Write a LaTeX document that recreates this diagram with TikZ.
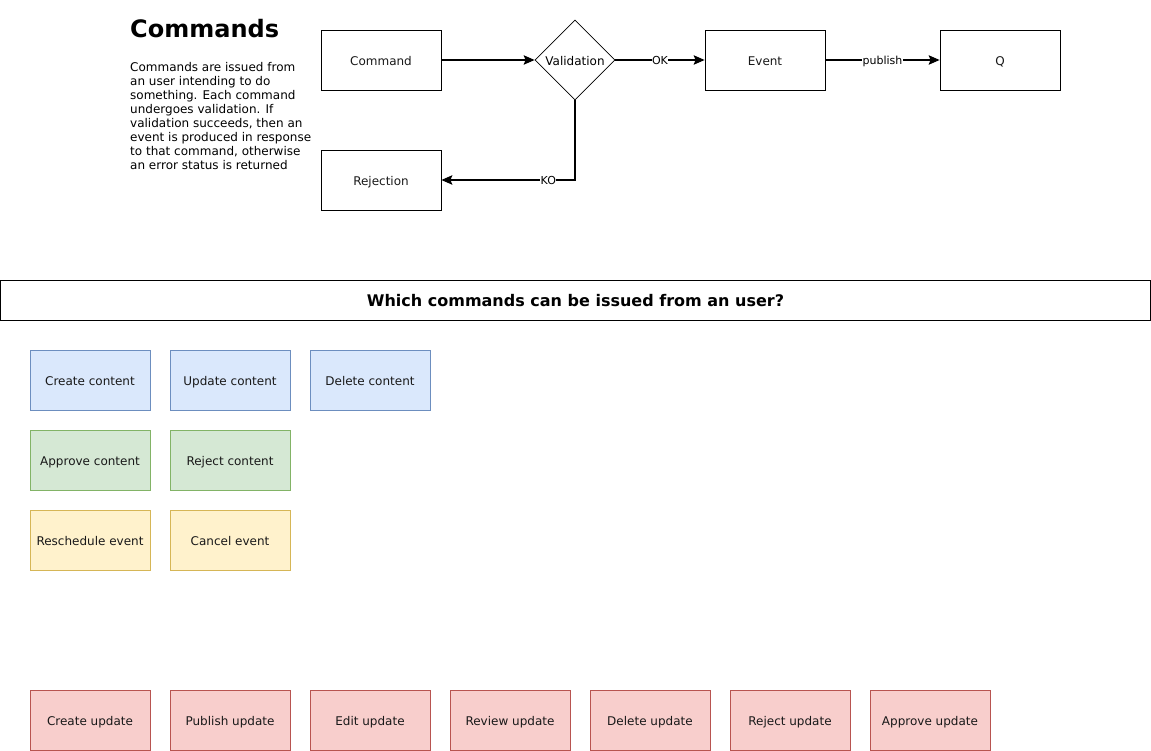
\documentclass[tikz,border=0pt]{standalone}
\usepackage{fontspec}
\setmainfont{DejaVu Sans}
\usetikzlibrary{shapes.geometric,arrows.meta}
\definecolor{bluefill}{HTML}{DAE8FC}\definecolor{bluedraw}{HTML}{6C8EBF}
\definecolor{greenfill}{HTML}{D5E8D4}\definecolor{greendraw}{HTML}{82B366}
\definecolor{yellowfill}{HTML}{FFF2CC}\definecolor{yellowdraw}{HTML}{D6B656}
\definecolor{redfill}{HTML}{F8CECC}\definecolor{reddraw}{HTML}{B85450}
\tikzset{
  box/.style={draw, line width=0.8pt, minimum width=120, minimum height=60, inner sep=0, text height=11pt, text depth=0pt, font=\fontsize{12}{14}\selectfont, text=black!90},
  bluebox/.style={box, fill=bluefill, draw=bluedraw},
  greenbox/.style={box, fill=greenfill, draw=greendraw},
  yellowbox/.style={box, fill=yellowfill, draw=yellowdraw},
  redbox/.style={box, fill=redfill, draw=reddraw},
  decision/.style={draw, line width=0.8pt, diamond, aspect=1, minimum width=80, minimum height=80, inner sep=0, text height=11pt, text depth=0pt, font=\fontsize{12}{14}\selectfont},
  arr/.style={line width=1.1pt, -{Stealth[length=11pt,width=9.5pt,inset=2pt]}},
  lbl/.style={fill=white, inner sep=0.5pt, text height=9pt, text depth=0pt, font=\fontsize{11}{13}\selectfont}
}
\begin{document}
\begin{tikzpicture}[x=1pt,y=-1pt]
\useasboundingbox (0,0) rectangle (1151,751);
% heading and description
\node[anchor=base west, inner sep=0, font=\fontsize{24}{28}\selectfont\bfseries] (title) at (130,37.5) {Commands};
\node[anchor=north west, inner sep=0, align=left, font=\fontsize{12}{14}\selectfont] (desc) at (130,62.5)
 {Commands are issued from\\an user intending to do\\something. Each command\\undergoes validation. If\\validation succeeds, then an\\event is produced in response\\to that command, otherwise\\an error status is returned};
% flow
\node[box] (cmd) at (381,60) {Command};
\node[decision] (val) at (575,60) {Validation};
\node[box] (ev) at (765,60) {Event};
\node[box] (q) at (1000,60) {Q};
\node[box] (rej) at (381,180) {Rejection};
\draw[arr] (cmd) -- (val);
\draw[arr] (val) -- node[lbl]{OK} (ev);
\draw[arr] (ev) -- node[lbl]{publish} (q);
\draw[arr] (val.south) |- node[lbl, pos=0.6]{KO} (rej);
% header
\node[draw, line width=0.8pt, minimum width=1150, minimum height=40, inner sep=0, text height=12.5pt, text depth=0pt, font=\fontsize{16}{18}\selectfont\bfseries] (hdr) at (575.5,300.5) {Which commands can be issued from an user?};
% commands
\node[bluebox] (c1) at (90,380) {Create content};
\node[bluebox] (c2) at (230,380) {Update content};
\node[bluebox] (c3) at (370,380) {Delete content};
\node[greenbox] (g1) at (90,460) {Approve content};
\node[greenbox] (g2) at (230,460) {Reject content};
\node[yellowbox] (y1) at (90,540) {Reschedule event};
\node[yellowbox] (y2) at (230,540) {Cancel event};
\node[redbox] (r1) at (90,720) {Create update};
\node[redbox] (r2) at (230,720) {Publish update};
\node[redbox] (r3) at (370,720) {Edit update};
\node[redbox] (r4) at (510,720) {Review update};
\node[redbox] (r5) at (650,720) {Delete update};
\node[redbox] (r6) at (790,720) {Reject update};
\node[redbox] (r7) at (930,720) {Approve update};
\end{tikzpicture}
\end{document}
